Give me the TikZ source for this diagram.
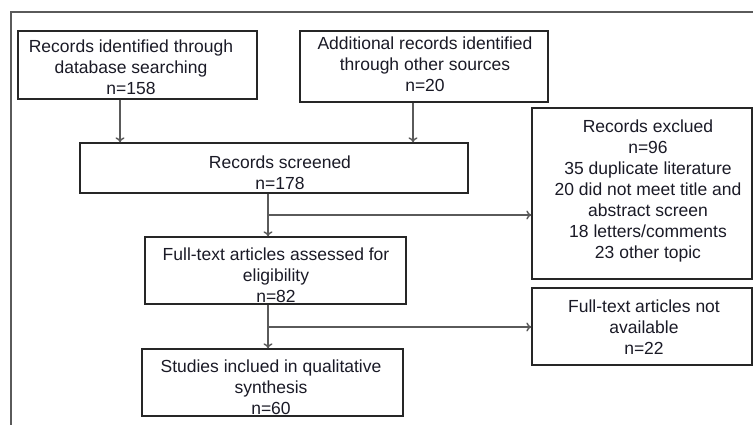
\documentclass[tikz,border=0pt]{standalone}
\usepackage{fontspec}
\setmainfont{Liberation Sans}
\usetikzlibrary{arrows.meta}
\definecolor{txtc}{HTML}{1A1A26}
\definecolor{linec}{HTML}{5A5A5A}
\definecolor{boxc}{HTML}{262626}
\tikzset{
  box/.style={draw=boxc, line width=1.3pt, rectangle, inner sep=0pt},
  txt/.style={text=txtc, align=center, inner sep=0pt, font=\fontsize{17.5}{21}\selectfont},
  conn/.style={draw=linec, line width=1.4pt},
  arr/.style={conn, -{To[length=5pt,width=9pt]}},
}
\begin{document}
\begin{tikzpicture}[x=1pt,y=-1pt]
\useasboundingbox (0,0) rectangle (753,425);
% frame
\draw[conn] (11,425) -- (11,12) -- (753,12);
% boxes
\node[box, minimum width=239pt, minimum height=68pt] (b1) at (137.5,65) {};
\node[box, minimum width=248pt, minimum height=71pt] (b2) at (424,66.5) {};
\node[box, minimum width=388pt, minimum height=50pt] (b3) at (274,168) {};
\node[box, minimum width=220pt, minimum height=171pt] (b4) at (642,193.5) {};
\node[box, minimum width=261pt, minimum height=67pt] (b5) at (275.5,270.5) {};
\node[box, minimum width=220pt, minimum height=77pt] (b6) at (642,326.5) {};
\node[box, minimum width=261pt, minimum height=67pt] (b7) at (272.5,382.5) {};
% texts
\node[txt] (t1) at (131,67) {Records identified through\\database searching\\n=158};
\node[txt] (t2) at (425,64) {Additional records identified\\through other sources\\n=20};
\node[txt] (t3) at (280,173) {Records screened\\n=178};
\node[txt] (t4) at (648,191) {Records exclued\\n=96\\35 duplicate literature\\20 did not meet title and\\abstract screen\\18 letters/comments\\23 other topic};
\node[txt] (t5) at (276,275) {Full-text articles assessed for\\eligibility\\n=82};
\node[txt] (t6) at (644,327) {Full-text articles not\\available\\n=22};
\node[txt] (t7) at (271,387) {Studies inclued in qualitative\\synthesis\\n=60};
% connector coordinates
\coordinate (c1) at (120,0);
\coordinate (c2) at (413,0);
\coordinate (c3) at (268,0);
\coordinate (j1) at (268,215);
\coordinate (j2) at (268,327);
% connectors
\draw[arr] (b1.south -| c1) -- (b3.north -| c1);
\draw[arr] (b2.south -| c2) -- (b3.north -| c2);
\draw[arr] (b3.south -| c3) -- (b5.north -| c3);
\draw[arr] (j1) -- (j1 -| b4.west);
\draw[arr] (b5.south -| c3) -- (b7.north -| c3);
\draw[arr] (j2) -- (j2 -| b6.west);
\end{tikzpicture}
\end{document}
